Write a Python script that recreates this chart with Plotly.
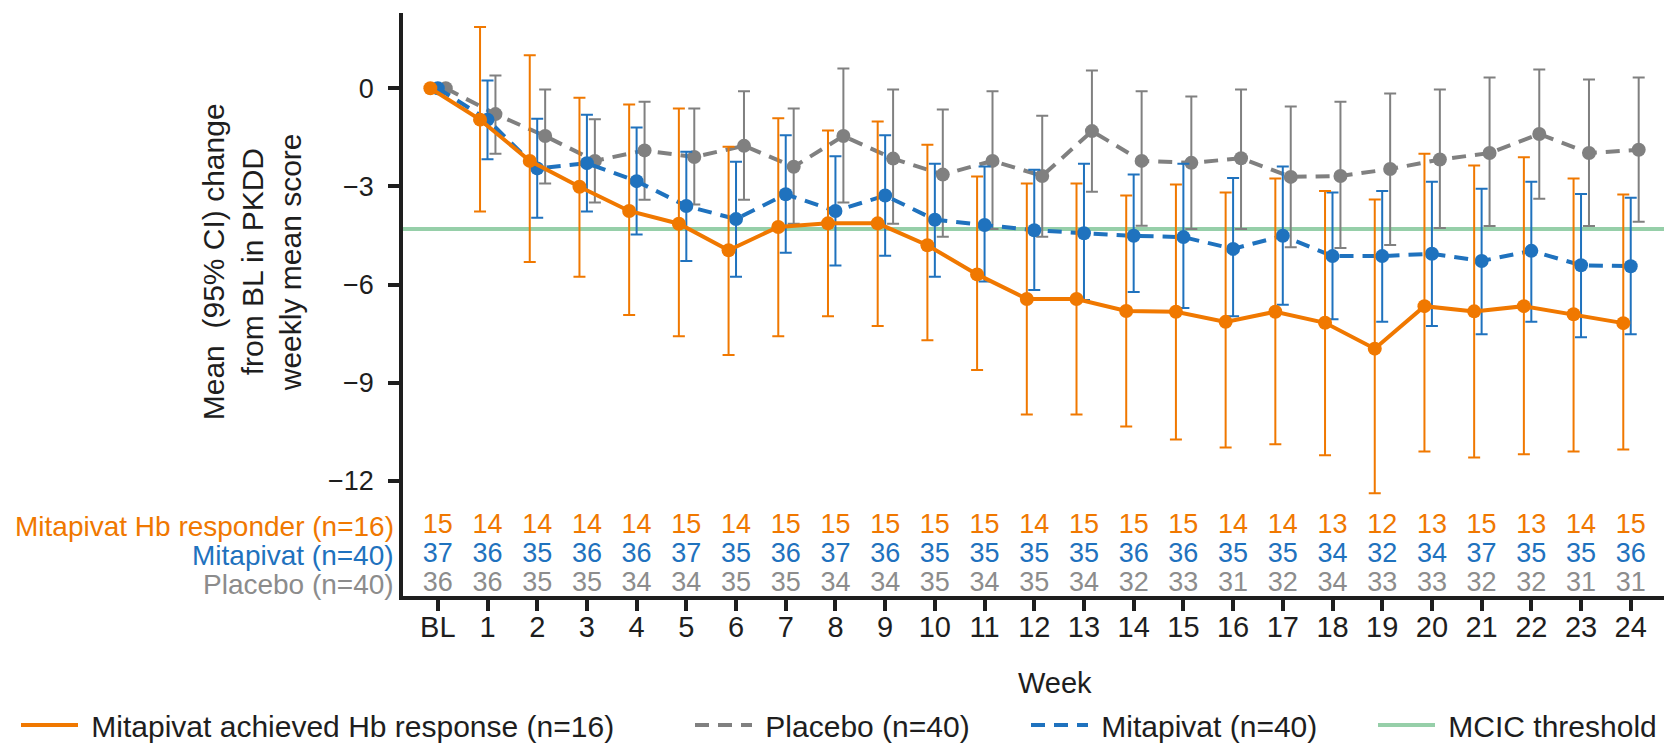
import plotly.graph_objects as go

# ---------------- data ----------------
week_labels = ["BL"] + [str(i) for i in range(1, 25)]
weeks = list(range(25))

resp_mean = [0, -0.96, -2.22, -3.01, -3.75, -4.14, -4.95, -4.24, -4.13, -4.13, -4.80, -5.69, -6.44,
             -6.44, -6.81, -6.83, -7.14, -6.83, -7.17, -7.96, -6.66, -6.82, -6.66, -6.91, -7.18]
resp_upper = [None, 1.87, 1.01, -0.29, -0.50, -0.62, -1.79, -0.92, -1.29, -1.02, -1.73, -2.70, -2.91,
              -2.91, -3.28, -2.94, -3.19, -2.76, -3.14, -3.40, -2.00, -2.36, -2.11, -2.76, -3.25]
resp_lower = [None, -3.77, -5.31, -5.76, -6.93, -7.58, -8.15, -7.58, -6.97, -7.27, -7.70, -8.61, -9.97,
              -9.97, -10.34, -10.74, -10.98, -10.88, -11.22, -12.38, -11.10, -11.29, -11.19, -11.10, -11.04]

mita_mean = [0, -0.96, -2.45, -2.29, -2.84, -3.60, -4.00, -3.24, -3.75, -3.28, -4.02, -4.18, -4.34,
             -4.43, -4.51, -4.55, -4.91, -4.51, -5.13, -5.13, -5.06, -5.28, -4.97, -5.41, -5.44]
mita_upper = [None, 0.24, -0.93, -0.81, -1.20, -1.94, -2.25, -1.44, -2.08, -1.44, -2.31, -2.39, -2.49,
              -2.31, -2.64, -2.31, -2.74, -2.39, -3.19, -3.14, -2.86, -3.07, -2.86, -3.23, -3.35]
mita_lower = [None, -2.17, -3.96, -3.77, -4.47, -5.28, -5.76, -5.03, -5.42, -5.12, -5.76, -5.91, -6.17,
              -6.47, -6.23, -6.72, -6.97, -6.62, -7.06, -7.14, -7.27, -7.52, -7.14, -7.61, -7.52]

plac_mean = [0, -0.79, -1.46, -2.22, -1.90, -2.10, -1.76, -2.40, -1.46, -2.15, -2.64, -2.22, -2.68,
             -1.31, -2.22, -2.28, -2.14, -2.71, -2.68, -2.47, -2.18, -1.98, -1.40, -1.98, -1.88]
plac_upper = [None, 0.39, -0.04, -0.95, -0.41, -0.62, -0.09, -0.62, 0.60, -0.04, -0.65, -0.09, -0.84,
              0.54, -0.09, -0.25, -0.04, -0.56, -0.41, -0.16, -0.04, 0.33, 0.57, 0.27, 0.33]
plac_lower = [None, -2.00, -2.91, -3.49, -3.41, -3.55, -3.41, -4.14, -3.49, -4.14, -4.54, -4.30, -4.54,
              -3.16, -4.20, -4.30, -4.30, -4.86, -4.88, -4.79, -4.27, -4.21, -3.38, -4.21, -4.08]

n_resp = [15, 14, 14, 14, 14, 15, 14, 15, 15, 15, 15, 15, 14, 15, 15, 15, 14, 14, 13, 12, 13, 15, 13, 14, 15]
n_mita = [37, 36, 35, 36, 36, 37, 35, 36, 37, 36, 35, 35, 35, 35, 36, 36, 35, 35, 34, 32, 34, 37, 35, 35, 36]
n_plac = [36, 36, 35, 35, 34, 34, 35, 35, 34, 34, 35, 34, 35, 34, 32, 33, 31, 32, 34, 33, 33, 32, 32, 31, 31]

mcic_threshold = -4.3

y_ticks = [0, -3, -6, -9, -12]

# ---------------- style ----------------
ORANGE = "#F07800"
BLUE = "#1F72BE"
GRAY = "#808080"
GRAY_TXT = "#8C8C8C"
GREEN = "#96CFA9"
INK = "#1E1E1E"
FONT = "Arial, 'Liberation Sans', sans-serif"
DASH = "14px,9px"

DODGE = {"resp": -0.15, "mita": 0.0, "plac": 0.16}
ROW_Y = {"resp": -13.39, "mita": -14.27, "plac": -15.16}

# Page geometry: the body keeps the browser's default 8 px margin and the
# captured page is slightly taller than the window, so window positions are
# converted to figure paper coordinates with these constants.
PAGE_MARGIN = 8
VSCALE = 744 / 761
W, H = 1664, 745
ML, MR, MT, MB = 395, 2, 5, 146
PW, PH = W - ML - MR, H - MT - MB


def px_x(sx):
    return (sx - PAGE_MARGIN - ML) / PW


def px_y(sy):
    return (H - MB - (sy / VSCALE - PAGE_MARGIN)) / PH


def err(mean, upper, lower):
    plus = [None if u is None else u - m for m, u in zip(mean, upper)]
    minus = [None if l is None else m - l for m, l in zip(mean, lower)]
    return plus, minus


fig = go.Figure()

# MCIC threshold
fig.add_shape(type="line", xref="paper", x0=0, x1=1, yref="y", y0=mcic_threshold, y1=mcic_threshold,
              line=dict(color=GREEN, width=4), layer="below")


def series(mean, upper, lower, key, color, dash, name):
    plus, minus = err(mean, upper, lower)
    fig.add_trace(go.Scatter(
        x=[w + DODGE[key] for w in weeks], y=mean, mode="lines+markers", name=name,
        line=dict(color=color, width=4, dash=dash),
        marker=dict(color=color, size=14),
        error_y=dict(type="data", symmetric=False, array=plus, arrayminus=minus,
                     color=color, thickness=2, width=6),
        showlegend=False, hoverinfo="skip"))


series(plac_mean, plac_upper, plac_lower, "plac", GRAY, DASH, "Placebo (n=40)")
series(mita_mean, mita_upper, mita_lower, "mita", BLUE, DASH, "Mitapivat (n=40)")
series(resp_mean, resp_upper, resp_lower, "resp", ORANGE, "solid", "Mitapivat achieved Hb response (n=16)")

# n-at-risk table
for key, counts, col in [("resp", n_resp, ORANGE), ("mita", n_mita, BLUE), ("plac", n_plac, GRAY_TXT)]:
    fig.add_trace(go.Scatter(
        x=weeks, y=[ROW_Y[key]] * len(weeks), mode="text", text=[str(c) for c in counts],
        textfont=dict(color=col, size=27, family=FONT), cliponaxis=False,
        showlegend=False, hoverinfo="skip"))

row_labels = [("resp", "Mitapivat Hb responder (n=16)", ORANGE),
              ("mita", "Mitapivat (n=40)", BLUE),
              ("plac", "Placebo (n=40)", GRAY_TXT)]
for key, txt, col in row_labels:
    fig.add_annotation(xref="paper", x=px_x(396), xanchor="right", yref="y", y=ROW_Y[key],
                       yanchor="middle", text=txt, showarrow=False,
                       font=dict(color=col, size=28, family=FONT))

# legend-only entries (one legend each, placed like the reference)
legend_items = [
    ("legend", "Mitapivat achieved Hb response (n=16)", ORANGE, "solid", 16),
    ("legend2", "Placebo (n=40)", GRAY, DASH, 690),
    ("legend3", "Mitapivat (n=40)", BLUE, DASH, 1026),
    ("legend4", "MCIC threshold", GREEN, "solid", 1373),
]
legend_layout = {}
for lg, name, col, dash, lx in legend_items:
    fig.add_trace(go.Scatter(x=[None], y=[None], mode="lines", name="\u00a0" + name,
                             line=dict(color=col, width=4, dash=dash), legend=lg))
    legend_layout[lg] = dict(x=px_x(lx), xanchor="left", y=px_y(722), yanchor="middle",
                             orientation="h", itemwidth=57, bgcolor="rgba(0,0,0,0)",
                             font=dict(size=30, color=INK, family=FONT))

# y-axis title, one annotation per line
y_title_lines = ["Mean\u00a0 (95% CI) change", "from BL in PKDD", "weekly mean score"]
for txt, cx in zip(y_title_lines, [213, 252, 290]):
    fig.add_annotation(xref="paper", x=px_x(cx), yref="paper", y=px_y(261), xanchor="center",
                       yanchor="middle", textangle=-90, showarrow=False, text=txt,
                       font=dict(size=30, color=INK, family=FONT))
fig.add_annotation(xref="paper", x=px_x(1055), yref="paper", y=px_y(680), xanchor="center",
                   yanchor="middle", showarrow=False, text="Week",
                   font=dict(size=29, color=INK, family=FONT))

fig.update_layout(
    width=W, height=H, margin=dict(l=ML, r=MR, t=MT, b=MB, pad=0),
    paper_bgcolor="white", plot_bgcolor="white",
    font=dict(family=FONT, color=INK),
    xaxis=dict(range=[-0.70, 24.79], tickvals=weeks, ticktext=week_labels, showgrid=False,
               zeroline=False, showline=True, linecolor=INK, linewidth=3.5, ticks="outside",
               ticklen=11, tickwidth=3.5, tickcolor=INK, tickfont=dict(size=29, color=INK),
               ticklabelstandoff=-9),
    yaxis=dict(range=[-15.52, 2.30], tickvals=y_ticks, showgrid=False, zeroline=False,
               showline=True, linecolor=INK, linewidth=3.5, ticks="outside", ticklen=11,
               tickwidth=3.5, tickcolor=INK, tickfont=dict(size=27, color=INK),
               ticklabelstandoff=9),
    **legend_layout,
)

fig.write_html("out.html", config={"displayModeBar": False})
